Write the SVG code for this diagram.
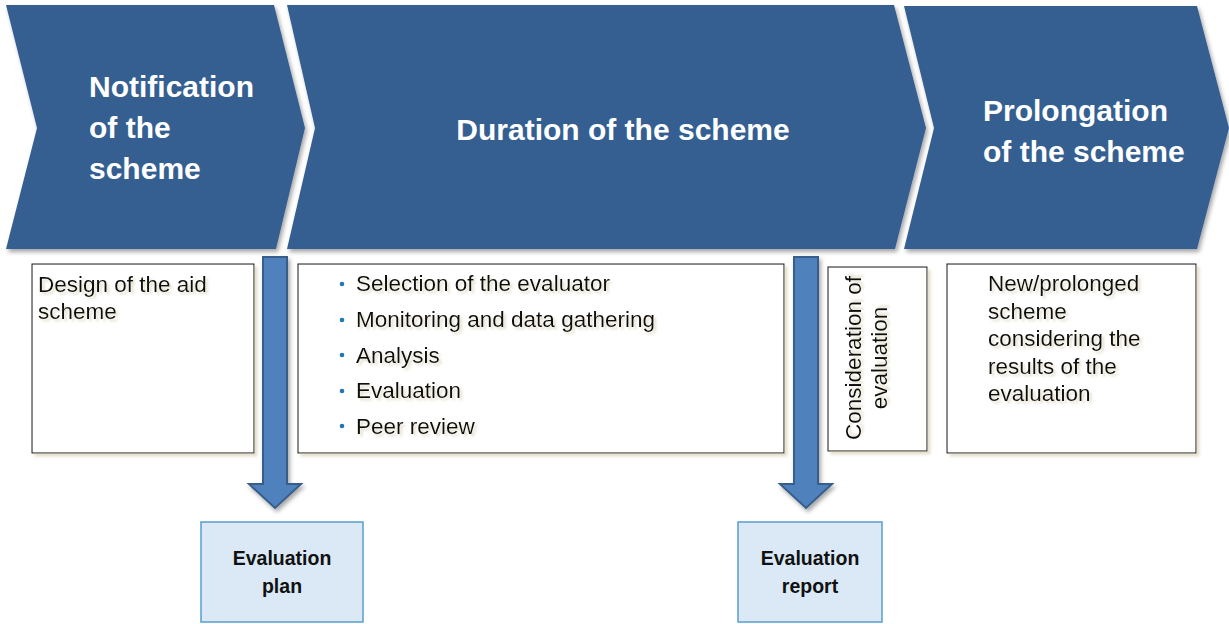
<svg xmlns="http://www.w3.org/2000/svg" width="1229" height="624" viewBox="0 0 1229 624">
<defs>
<filter id="sh" x="-5%" y="-5%" width="115%" height="115%">
<feDropShadow dx="2" dy="3" stdDeviation="2" flood-color="#000" flood-opacity="0.35"/>
</filter>
<filter id="bsh" x="-5%" y="-5%" width="115%" height="115%">
<feDropShadow dx="3" dy="3" stdDeviation="1.5" flood-color="#d8d2b8" flood-opacity="0.7"/>
</filter>
<filter id="tsh" x="-5%" y="-20%" width="115%" height="150%">
<feDropShadow dx="2.5" dy="2.5" stdDeviation="1" flood-color="#cfc8a8" flood-opacity="0.6"/>
</filter>
</defs>
<style>
.chev{fill:#365F91;filter:url(#sh)}
.ht{font-family:"Liberation Sans",Arial,sans-serif;font-weight:bold;font-size:30px;fill:#ffffff}
.box{fill:#ffffff;stroke:#111;stroke-width:1;filter:url(#bsh)}
.bt{font-family:"Liberation Sans",Arial,sans-serif;font-size:22.5px;fill:#111;filter:url(#tsh)}
.bul{fill:#1F77B4}
.arr{fill:#4F81BD;stroke:#385D8A;stroke-width:2;filter:url(#sh)}
.out{fill:#DAE9F5;stroke:#5A9FCC;stroke-width:1.5}
.ot{font-family:"Liberation Sans",Arial,sans-serif;font-weight:bold;font-size:19.5px;fill:#111;text-anchor:middle}
</style>
<rect width="1229" height="624" fill="#ffffff"/>

<g id="chev-notification">
<polygon class="chev" points="6,5 274,5 305,128 276,249 6,249 37,128"/>
<text class="ht"><tspan x="89" y="97">Notification</tspan><tspan x="89" y="138">of the</tspan><tspan x="89" y="179">scheme</tspan></text>
</g>
<g id="chev-duration">
<polygon class="chev" points="287,5 894,5 926,128 895,249 287,249 315,128"/>
<text class="ht" x="623" y="140" text-anchor="middle">Duration of the scheme</text>
</g>
<g id="chev-prolongation">
<polygon class="chev" points="904,6 1197,6 1229,128 1197,249 904,249 934,128"/>
<text class="ht"><tspan x="983" y="121">Prolongation</tspan><tspan x="983" y="162">of the scheme</tspan></text>
</g>

<g id="box-design">
<rect class="box" x="32" y="264" width="222" height="189"/>
<text class="bt"><tspan x="38" y="292">Design of the aid</tspan><tspan x="38" y="319">scheme</tspan></text>
</g>
<g id="box-duration">
<rect class="box" x="298" y="264" width="486" height="189"/>
<circle class="bul" cx="342" cy="284" r="2.3"/>
<circle class="bul" cx="342" cy="320" r="2.3"/>
<circle class="bul" cx="342" cy="355" r="2.3"/>
<circle class="bul" cx="342" cy="391" r="2.3"/>
<circle class="bul" cx="342" cy="426" r="2.3"/>
<text class="bt"><tspan x="356" y="291">Selection of the evaluator</tspan><tspan x="356" y="327">Monitoring and data gathering</tspan><tspan x="356" y="363">Analysis</tspan><tspan x="356" y="398">Evaluation</tspan><tspan x="356" y="434">Peer review</tspan></text>
</g>
<g id="box-consideration">
<rect class="box" x="828" y="267" width="99" height="184"/>
<text class="bt" text-anchor="middle" transform="translate(861,358) rotate(-90)"><tspan x="0" y="0">Consideration of</tspan><tspan x="0" y="26">evaluation</tspan></text>
</g>
<g id="box-new">
<rect class="box" x="947" y="264" width="249" height="189"/>
<text class="bt"><tspan x="988" y="291">New/prolonged</tspan><tspan x="988" y="319">scheme</tspan><tspan x="988" y="346">considering the</tspan><tspan x="988" y="374">results of the</tspan><tspan x="988" y="401">evaluation</tspan></text>
</g>

<g id="connectors">
<polygon class="arr" points="263,257 287,257 287,484 301,484 275,508 249,484 263,484"/>
<polygon class="arr" points="794,257 818,257 818,484 832,484 806,508 780,484 794,484"/>
</g>

<g id="out-plan">
<rect class="out" x="201" y="522" width="162" height="100"/>
<text class="ot"><tspan x="282" y="565">Evaluation</tspan><tspan x="282" y="593">plan</tspan></text>
</g>
<g id="out-report">
<rect class="out" x="738" y="522" width="144" height="100"/>
<text class="ot"><tspan x="810" y="565">Evaluation</tspan><tspan x="810" y="593">report</tspan></text>
</g>
</svg>
